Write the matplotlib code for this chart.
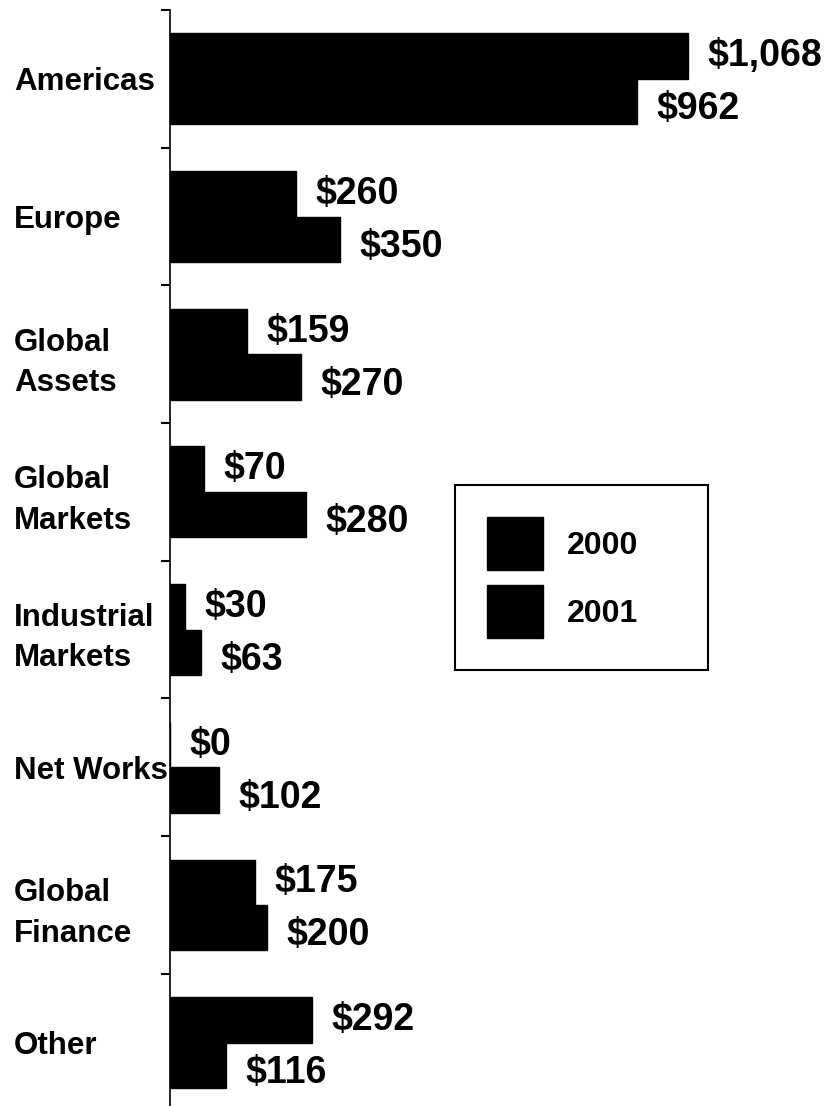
import numpy as np
import matplotlib
matplotlib.use("Agg")
import matplotlib.pyplot as plt

plt.rcParams['font.family'] = ['Liberation Sans', 'DejaVu Sans']
plt.rcParams['font.weight'] = 'bold'

categories = ["Americas", "Europe", "Global\nAssets", "Global\nMarkets",
              "Industrial\nMarkets", "Net Works", "Global\nFinance", "Other"]
vals_2000 = [1068, 260, 159, 70, 30, 0, 175, 292]
vals_2001 = [962, 350, 270, 280, 63, 102, 200, 116]

fig = plt.figure(figsize=(8.29, 11.06), dpi=100)
ax = fig.add_axes([170/829, 0.0, 1 - 170/829, 1 - 10/1106])

n = len(categories)
centers = np.arange(n) + 0.5
h = 0.33

b1 = ax.barh(centers - h/2, vals_2000, height=h, color='black', edgecolor='black', label='2000')
b2 = ax.barh(centers + h/2, vals_2001, height=h, color='black', edgecolor='black', label='2001')

# value labels; the 2001 ones sit a little below their bar centre
for bars, vals, dy in ((b1, vals_2000, 0), (b2, vals_2001, -5.5)):
    for bar, v in zip(bars, vals):
        ax.annotate(f"${v:,}", xy=(v, bar.get_y() + bar.get_height()/2),
                    xytext=(14, dy), textcoords='offset points',
                    ha='left', va='center', fontsize=27, fontweight='bold')

ax.set_xlim(0, (829 - 170) / 0.485)
ax.set_ylim(7.96, 0)

ax.set_yticks(centers)
ax.set_yticklabels(categories, ha='left', fontsize=22.5, fontweight='bold', linespacing=1.45)
ax.tick_params(axis='y', which='major', length=0, pad=156/1.389)
ax.set_yticks(np.arange(n), minor=True)
ax.tick_params(axis='y', which='minor', length=6.5, width=1.5, direction='out')
ax.set_xticks([])

for s in ('top', 'right', 'bottom'):
    ax.spines[s].set_visible(False)
ax.spines['left'].set_linewidth(1.2)

leg = ax.legend(loc='upper left',
                bbox_to_anchor=(455/829, 1 - 670/1106, 253/829, 185/1106),
                bbox_transform=fig.transFigure, borderaxespad=0, mode='expand',
                fontsize=23, handlelength=1.75, handleheight=2.2,
                handletextpad=0.75, borderpad=1.0, labelspacing=0.45,
                fancybox=False, framealpha=1, edgecolor='black')
leg.get_frame().set_linewidth(1.5)

fig.savefig("out.png", dpi=100)
